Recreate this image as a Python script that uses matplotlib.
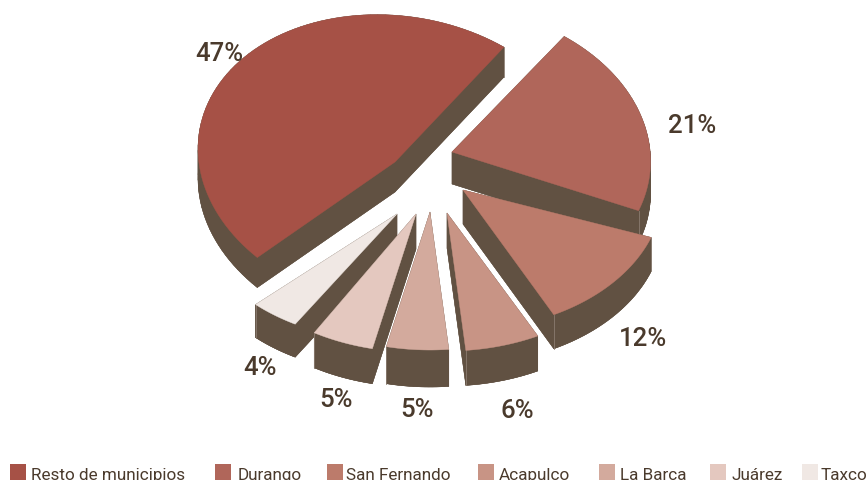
import matplotlib.pyplot as plt
import numpy as np

# Datos del grafico
municipios = ['Resto de municipios', 'Durango', 'San Fernando', 'Acapulco', 'La Barca', 'Juárez', 'Taxco']
porcentajes = [47, 21, 12, 6, 5, 5, 4]
colores = ['#A65146', '#B0665A', '#BC7B6B', '#C89485', '#D3AA9D', '#E4C8BF', '#F0E8E4']

# Ajustes de cada porcion: vertice en pixeles, radios, grosor, inclinacion y giro
vertices = [(395, 163), (452, 153), (463, 191), (447, 214), (430, 213), (416, 215), (397, 215)]
radio_x = [198, 199, 200, 200, 200, 200, 200]
radio_y = [146, 146, 140, 138, 138, 138, 128]
grosor = [30, 32, 34, 35, 37, 35, 33]
inclinacion = [0.15, 0.10, 0, 0, 0, 0, 0]
giro = [0, -3, -7, -7, -7, -7, -7]
inicio = 232
orden = [0, 1, 2, 6, 5, 3, 4]

# Posicion de etiquetas y leyenda
pos_etiquetas = [(219, 54), (692, 126), (643, 339), (517, 411), (417, 410), (336, 400), (260, 368)]
x_cuadro = [10, 215, 327, 478, 599, 710, 802]
x_texto = [31, 238, 346, 499, 620, 731, 821]

color_lado = '#615142'
color_texto = '#4A3A2C'

plt.rcParams['font.family'] = ['Roboto', 'DejaVu Sans']

fig = plt.figure(figsize=(8.67, 4.81), dpi=100)
ax = fig.add_axes([0, 0, 1, 1])
ax.set_xlim(0, 867)
ax.set_ylim(481, 0)
ax.axis('off')

# Angulos de cada porcion, en sentido horario
fin = inicio - np.cumsum(porcentajes) * 3.6
ini = np.concatenate(([inicio], fin[:-1]))

for z, i in enumerate(orden):
    t = np.radians(np.linspace(ini[i] + giro[i], fin[i] + giro[i], 80))
    ex = radio_x[i] * np.cos(t)
    ey = radio_y[i] * np.sin(t)
    k = inclinacion[i]
    xs = vertices[i][0] + ex * np.cos(k) + ey * np.sin(k)
    ys = vertices[i][1] - (-ex * np.sin(k) + ey * np.cos(k))
    px = np.concatenate(([vertices[i][0]], xs))
    py = np.concatenate(([vertices[i][1]], ys))

    # Lados extruidos hacia abajo
    ax.fill(px, py + grosor[i], color=color_lado, lw=0.3, zorder=z + 1)
    for j in range(len(px)):
        n = (j + 1) % len(px)
        ax.fill([px[j], px[n], px[n], px[j]],
                [py[j], py[n], py[n] + grosor[i], py[j] + grosor[i]],
                color=color_lado, lw=0.3, zorder=z + 1)
    # Arista clara en la esquina
    ax.plot([xs[-1], xs[-1]], [ys[-1], ys[-1] + grosor[i]], color='#8A7C70', lw=0.6, zorder=z + 1)
    ax.fill(px, py, color=colores[i], lw=0.3, zorder=z + 1)

for i in range(len(porcentajes)):
    ax.text(pos_etiquetas[i][0], pos_etiquetas[i][1], f'{porcentajes[i]}%', fontsize=18.5,
            color=color_texto, ha='center', va='center', fontweight='medium', zorder=40)

# Leyenda, cortada por el borde inferior como en el original
for i in range(len(municipios)):
    ax.add_patch(plt.Rectangle((x_cuadro[i], 465), 16, 16, color=colores[i], lw=0, zorder=40))
    ax.text(x_texto[i], 480, municipios[i], fontsize=12.3, color=color_texto, ha='left',
            va='baseline', zorder=40, clip_on=True)

fig.savefig('out.png', dpi=100)
